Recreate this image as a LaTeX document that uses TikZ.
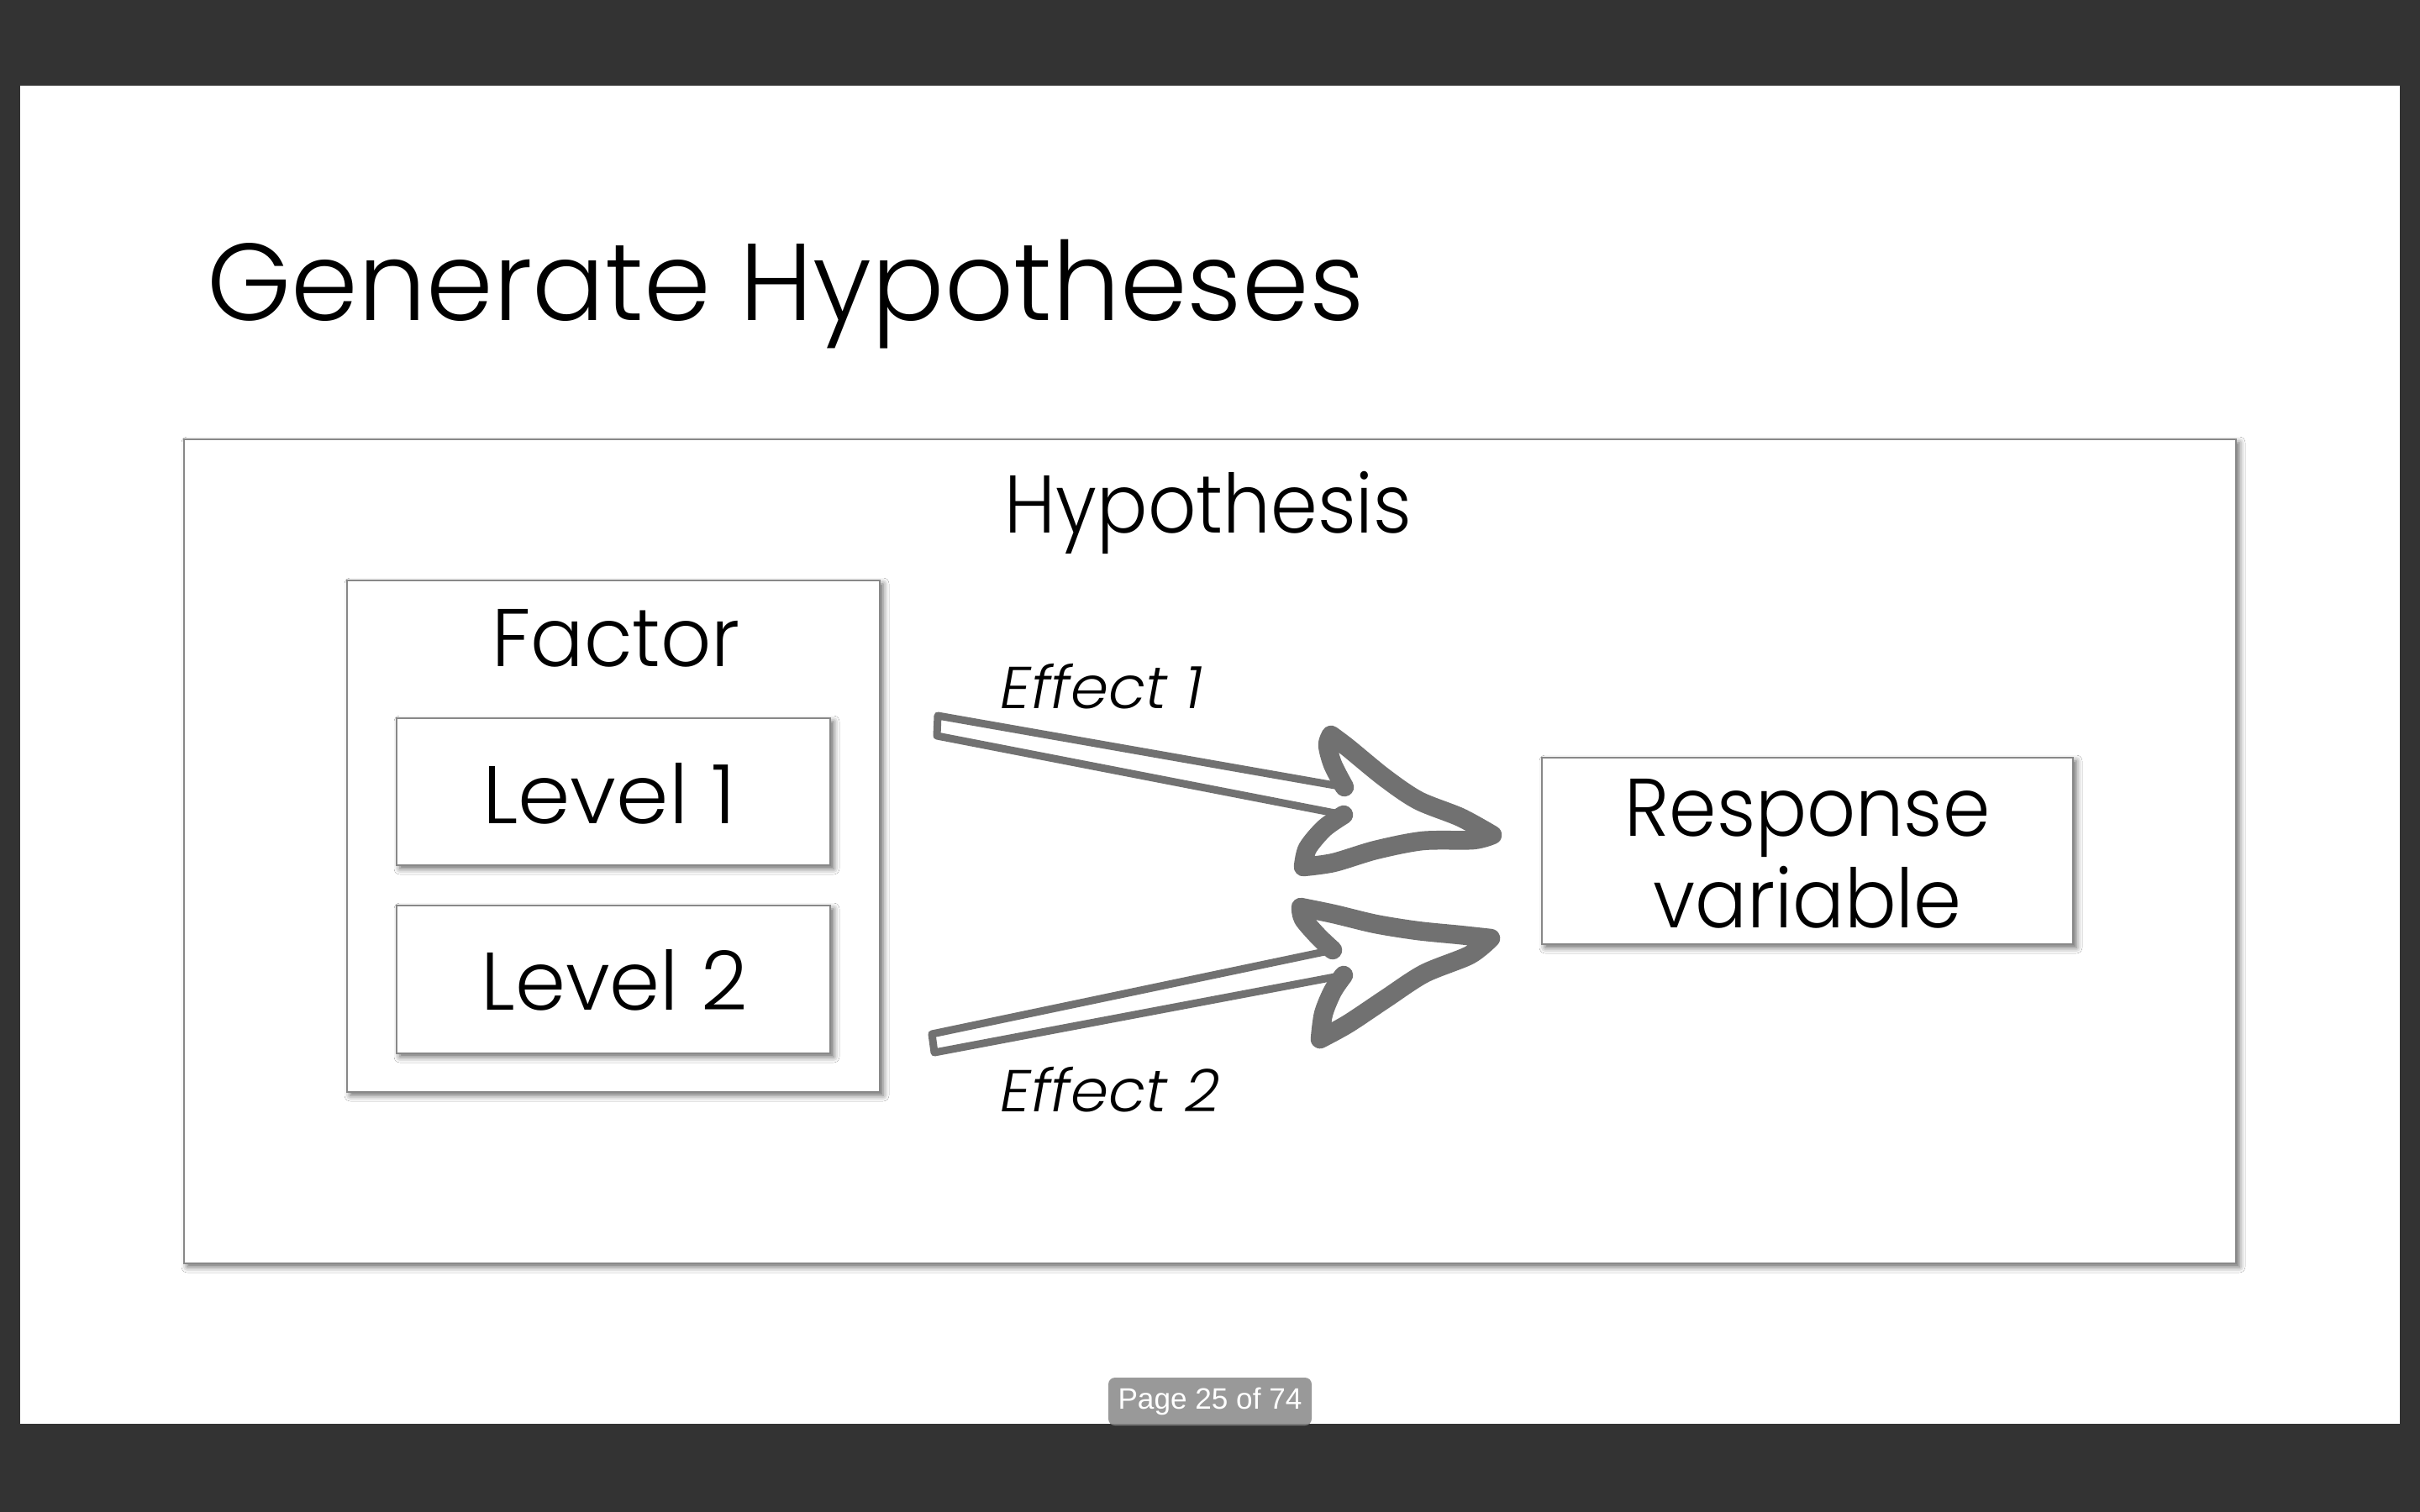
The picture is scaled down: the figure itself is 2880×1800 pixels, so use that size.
\documentclass[tikz,border=0pt]{standalone}
\usepackage{fontspec}
\setmainfont{Poppins}[UprightFont=* Light, ItalicFont=* Light Italic]
\newfontfamily\badgefont{Liberation Sans}
\usetikzlibrary{fit,shadows.blur}

\definecolor{deskgray}{RGB}{51,51,51}
\definecolor{framegray}{RGB}{136,136,136}
\definecolor{arrowgray}{RGB}{113,113,113}
\definecolor{badgegray}{RGB}{134,134,134}

\tikzset{
  px/.style={x=0.01cm,y=-0.01cm},
  panel/.style={draw=framegray, line width=0.025cm, fill=white, inner sep=0pt,
    blur shadow={shadow xshift=0.04cm, shadow yshift=-0.04cm,
                 shadow blur radius=0.07cm, shadow opacity=60}},
  boxtext/.style={anchor=base, inner sep=0pt, font=\fontsize{27.7}{34}\selectfont},
  titletext/.style={anchor=base west, inner sep=0pt, font=\fontsize{37}{44}\selectfont},
  effecttext/.style={anchor=base west, inner sep=0pt, font=\fontsize{20}{24}\selectfont\itshape},
  shaftline/.style={draw=arrowgray, line width=0.09cm, line join=round, line cap=round},
  headline/.style={draw=arrowgray, line width=0.225cm, line join=round, line cap=round},
  badge/.style={fill=badgegray, fill opacity=0.84, rounded corners=0.08cm, inner sep=0pt},
  badgetext/.style={text=white, inner sep=0pt,
    font=\badgefont\fontsize{10}{12}\selectfont}
}
% horizontally condensed text
\newcommand{\squeeze}[2]{\scalebox{#1}[1]{#2}}

\begin{document}
\begin{tikzpicture}[px]
  \useasboundingbox (0,0) rectangle (2880,1800);
  % viewer background and slide page
  \fill[deskgray] (0,0) rectangle (2880,1800);
  \fill[white] (24,102) rectangle (2856,1695);

  % slide title
  \node[titletext] (title) at (246,382) {\squeeze{0.985}{Generate Hypotheses}};

  % hypothesis frame
  \node[panel, fit={(219,523) (2661,1504)}] (hyp) {};
  \node[boxtext] (hyplabel) at (1438,634) {\squeeze{0.92}{Hypothesis}};

  % factor with its two levels
  \node[panel, fit={(413,691) (1047,1300)}] (factor) {};
  \node[boxtext] (factorlabel) at (733,793) {\squeeze{0.965}{Factor}};
  \node[panel, fit={(472,855) (988,1030)}] (lev1) {};
  \node[boxtext] (lev1label) at (725,980) {\squeeze{1.03}{Level 1}};
  \node[panel, fit={(472,1078) (988,1254)}] (lev2) {};
  \node[boxtext] (lev2label) at (731,1202) {\squeeze{0.99}{Level 2}};

  % response variable
  \node[panel, fit={(1835,902) (2467,1124)}] (resp) {};
  \node[boxtext] (resplabel1) at (2151,995) {\squeeze{0.93}{Response}};
  \node[boxtext] (resplabel2) at (2151,1104) {\squeeze{0.94}{variable}};

  % hand-drawn block arrow for the first effect
  \coordinate (a1top) at (1600,937);
  \coordinate (a1bot) at (1599,970);
  \coordinate (a1barbA) at (1584,875);
  \coordinate (a1tip) at (1776,994);
  \coordinate (a1barbB) at (1551,1032);
  \draw[shaftline] (a1top) -- (1116,852) -- (1115,876) -- (a1bot);
  \draw[headline]
    plot[smooth, tension=0.5] coordinates {(a1top) (1586,910) (1580,887) (a1barbA)}
    -- plot[smooth, tension=0.5] coordinates {(a1barbA) (1604,890) (1648,926) (1688,953) (1738,973) (a1tip)}
    -- plot[smooth, tension=0.5] coordinates {(a1tip) (1753,1000) (1693,1001) (1637,1012) (1587,1027) (a1barbB)}
    -- plot[smooth, tension=0.5] coordinates {(a1barbB) (1556,1010) (1576,986) (a1bot)};

  % hand-drawn block arrow for the second effect
  \coordinate (a2top) at (1586,1131);
  \coordinate (a2bot) at (1599,1161);
  \coordinate (a2barbA) at (1548,1080);
  \coordinate (a2tip) at (1774,1117);
  \coordinate (a2barbB) at (1571,1237);
  \draw[shaftline] (a2top) -- (1109,1231) -- (1112,1253) -- (a2bot);
  \draw[headline]
    plot[smooth, tension=0.5] coordinates {(a2top) (1569,1115) (1551,1094) (a2barbA)}
    -- plot[smooth, tension=0.5] coordinates {(a2barbA) (1587,1088) (1637,1100) (1687,1108) (1737,1113) (a2tip)}
    -- plot[smooth, tension=0.5] coordinates {(a2tip) (1749,1137) (1695,1159) (1649,1189) (1604,1219) (a2barbB)}
    -- plot[smooth, tension=0.5] coordinates {(a2barbB) (1575,1207) (1586,1180) (a2bot)};

  % effect labels
  \node[effecttext] (eff1) at (1190,843) {\squeeze{1.03}{Effect 1}};
  \node[effecttext] (eff2) at (1190,1323) {\squeeze{1.03}{Effect 2}};

  % page indicator of the viewer
  \node[badge, fit={(1319,1640) (1561,1697)}] (pagebox) {};
  \node[badgetext] (pagetext) at (pagebox.center) {Page 25 of 74};
\end{tikzpicture}
\end{document}
